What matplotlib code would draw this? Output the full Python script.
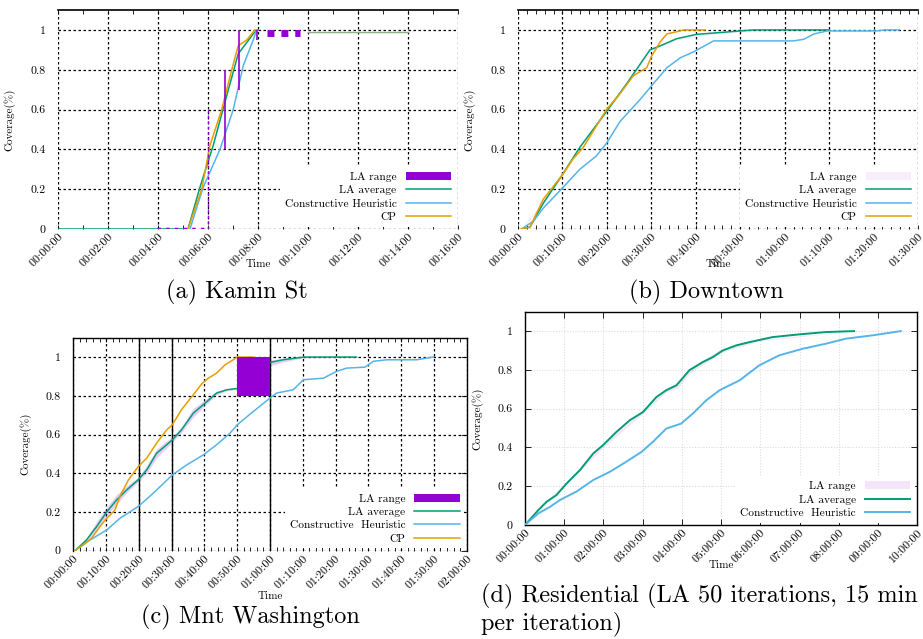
import matplotlib.pyplot as plt
import numpy as np

plt.rcParams['font.family'] = ['cmr10', 'DejaVu Serif']
plt.rcParams['axes.formatter.use_mathtext'] = True
plt.rcParams['axes.unicode_minus'] = False

PURPLE = '#9400d3'
GREEN = '#009e73'
BLUE = '#56b4e9'
ORANGE = '#e69f00'

y_ticks = [0, 0.2, 0.4, 0.6, 0.8, 1]
y_labels = ['0', '0.2', '0.4', '0.6', '0.8', '1']

# (a) Kamin St, time in minutes
a_ticks = [0, 2, 4, 6, 8, 10, 12, 14, 16]
a_labels = ['00:00:00', '00:02:00', '00:04:00', '00:06:00', '00:08:00',
            '00:10:00', '00:12:00', '00:14:00', '00:16:00']
a_cp_t = [5.2, 5.75, 6.08, 6.55, 6.95, 7.21, 7.55, 7.88]
a_cp_y = [0, 0.2, 0.42, 0.6, 0.8, 0.92, 0.95, 1.0]
a_la_t = [0, 3.95, 5.2, 5.68, 6.21, 6.75, 7.21, 7.81, 7.95]
a_la_y = [0, 0, 0, 0.21, 0.42, 0.67, 0.88, 0.98, 1.0]
a_la_tail_t = [10.0, 14.0]
a_la_tail_y = [0.99, 0.99]
a_ch_t = [5.28, 5.81, 6.48, 7.01, 7.41, 7.81, 7.95]
a_ch_y = [0, 0.21, 0.4, 0.6, 0.82, 0.95, 1.0]
# LA range as it came out in the render
a_rng_low_t = [3.95, 6.0]
a_rng_top_t = [8.36, 9.68]
a_rng_top_y = 0.983
a_rng_vx = [6.68, 7.25, 7.97]
a_rng_vlo = [0.40, 0.70, 0.95]
a_rng_vhi = [0.80, 1.00, 1.00]
a_rng_dash_x = 6.0
a_rng_dash_hi = 0.6

# (b) Downtown, minutes
b_ticks = [0, 10, 20, 30, 40, 50, 60, 70, 80, 90]
b_labels = ['00:00:00', '00:10:00', '00:20:00', '00:30:00', '00:40:00',
            '00:50:00', '01:00:00', '01:10:00', '01:20:00', '01:30:00']
b_cp_t = [0.8, 2.7, 5.7, 9.75, 12.3, 14.7, 19.9, 22.95, 25.95, 28.95, 30.1,
          32.0, 33.5, 36.5, 37.2, 42.1]
b_cp_y = [0, 0.01, 0.15, 0.265, 0.35, 0.41, 0.6, 0.68, 0.77, 0.81, 0.87,
          0.94, 0.98, 0.995, 1.0, 1.0]
b_la_t = [0.8, 2.7, 5.7, 9.75, 13.9, 19.9, 24.45, 29.7, 32.0, 35.7, 40.2,
          45.5, 50.0, 53.0, 70.0]
b_la_y = [0, 0.01, 0.13, 0.265, 0.41, 0.59, 0.73, 0.9, 0.92, 0.956, 0.978,
          0.987, 0.995, 1.0, 1.0]
b_ch_t = [0.8, 3.5, 5.7, 9.75, 13.9, 17.6, 19.9, 22.95, 27.45, 29.7, 33.5,
          36.5, 39.5, 44.0, 62.0, 64.3, 66.6, 69.6, 80.9, 82.4, 85.7]
b_ch_y = [0, 0.04, 0.105, 0.2, 0.3, 0.366, 0.43, 0.54, 0.65, 0.71, 0.81,
          0.86, 0.89, 0.945, 0.945, 0.953, 0.98, 0.995, 0.995, 1.0, 1.0]
b_rng_t = [0.8, 5.7, 13.9, 19.9, 24.45, 29.7, 35.7, 45.5, 53.0, 70.0]
b_rng_lo = [0, 0.12, 0.40, 0.58, 0.72, 0.89, 0.95, 0.982, 0.995, 0.998]
b_rng_hi = [0.01, 0.14, 0.42, 0.60, 0.74, 0.91, 0.962, 0.992, 1.0, 1.0]

# (c) Mnt Washington, minutes
c_ticks = [0, 10, 20, 30, 40, 50, 60, 70, 80, 90, 100, 110, 120]
c_labels = ['00:00:00', '00:10:00', '00:20:00', '00:30:00', '00:40:00',
            '00:50:00', '01:00:00', '01:10:00', '01:20:00', '01:30:00',
            '01:40:00', '01:50:00', '02:00:00']
c_cp_t = [0.5, 3.0, 5.6, 8.1, 10.2, 12.7, 14.2, 16.8, 19.8, 22.4, 25.4,
          28.5, 30.2, 33.0, 36.6, 39.2, 41.2, 43.7, 46.3, 48.8, 50.0, 54.9]
c_cp_y = [0, 0.03, 0.064, 0.124, 0.167, 0.21, 0.28, 0.365, 0.434, 0.478,
          0.555, 0.624, 0.65, 0.728, 0.805, 0.862, 0.891, 0.917, 0.96, 0.986,
          1.0, 1.0]
c_la_t = [0.5, 4.0, 7.1, 10.2, 13.2, 16.3, 19.8, 22.4, 25.4, 30.2, 33.0,
          36.6, 40.2, 43.7, 46.8, 50.0, 60.0, 64.0, 70.2, 86.4]
c_la_y = [0, 0.055, 0.124, 0.2, 0.262, 0.314, 0.366, 0.417, 0.503, 0.572,
          0.624, 0.71, 0.762, 0.814, 0.831, 0.838, 0.972, 0.986, 1.0, 1.0]
c_ch_t = [0.5, 5.1, 10.2, 14.2, 19.8, 24.4, 30.2, 34.6, 39.7, 43.7, 47.8,
          50.0, 54.9, 60.0, 62.0, 67.1, 70.2, 76.3, 80.3, 83.4, 89.0, 91.5,
          95.6, 104.7, 109.8]
c_ch_y = [0, 0.055, 0.107, 0.167, 0.228, 0.297, 0.391, 0.443, 0.495, 0.547,
          0.607, 0.65, 0.719, 0.788, 0.814, 0.831, 0.883, 0.891, 0.926,
          0.943, 0.948, 0.978, 0.986, 0.986, 1.0]
c_rng_t = [0.5, 4.0, 7.1, 10.2, 13.2, 16.3, 19.8, 22.4, 25.4, 30.2, 33.0,
           36.6, 40.2, 43.7, 46.8, 50.0]
c_rng_lo = [0, 0.045, 0.105, 0.18, 0.24, 0.30, 0.355, 0.40, 0.48, 0.56,
            0.61, 0.69, 0.75, 0.805, 0.826, 0.834]
c_rng_hi = [0, 0.065, 0.15, 0.225, 0.29, 0.335, 0.38, 0.44, 0.525, 0.59,
            0.64, 0.735, 0.78, 0.824, 0.836, 0.842]
c_rng2_t = [60.0, 64.0, 70.2, 80.0]
c_rng2_lo = [0.955, 0.975, 0.996, 0.998]
c_rng2_hi = [0.985, 0.995, 1.0, 1.0]
c_box_t = [50.0, 60.0]
c_box_lo = 0.8
c_box_hi = 1.0
c_solid_x = [20, 30, 60]

# (d) Residential, hours
d_ticks = [0, 1, 2, 3, 4, 5, 6, 7, 8, 9, 10]
d_labels = ['00:00:00', '01:00:00', '02:00:00', '03:00:00', '04:00:00',
            '05:00:00', '06:00:00', '07:00:00', '08:00:00', '09:00:00',
            '10:00:00']
d_la_t = [0, 0.34, 0.55, 0.8, 1.06, 1.4, 1.74, 1.99, 2.33, 2.67, 3.01, 3.35,
          3.6, 3.86, 4.19, 4.53, 4.79, 5.04, 5.38, 5.72, 6.31, 6.99, 7.67, 8.39]
d_la_y = [0, 0.077, 0.12, 0.154, 0.214, 0.283, 0.369, 0.412, 0.48, 0.54,
          0.583, 0.66, 0.695, 0.72, 0.798, 0.84, 0.866, 0.9, 0.926, 0.943,
          0.969, 0.983, 0.995, 1.0]
d_ch_t = [0, 0.34, 0.64, 0.89, 1.31, 1.74, 2.16, 2.58, 2.97, 3.26, 3.6, 3.98,
          4.28, 4.62, 4.96, 5.47, 5.97, 6.48, 7.08, 7.67, 8.18, 8.86, 9.58]
d_ch_y = [0, 0.06, 0.094, 0.129, 0.172, 0.232, 0.274, 0.326, 0.377, 0.429,
          0.497, 0.523, 0.575, 0.643, 0.695, 0.746, 0.823, 0.875, 0.909,
          0.935, 0.961, 0.978, 1.0]
d_rng_t = [0, 1.0, 2.0, 3.0, 3.6, 3.9, 4.2, 4.8, 5.0, 6.0, 8.39]
d_rng_lo = [0, 0.2, 0.4, 0.575, 0.685, 0.705, 0.785, 0.86, 0.89, 0.95, 1.0]
d_rng_hi = [0, 0.215, 0.42, 0.59, 0.705, 0.74, 0.81, 0.885, 0.905, 0.958, 1.0]

captions = ['(a) Kamin St', '(b) Downtown', '(c) Mnt Washington',
            '(d) Residential (LA 50 iterations, 15 min', 'per iteration)']

fig = plt.figure(figsize=(9.23, 6.39), dpi=100)
ax_a = fig.add_axes([0.0628, 0.6416, 0.4334, 0.3427])
ax_b = fig.add_axes([0.5612, 0.6416, 0.4334, 0.3427])
ax_c = fig.add_axes([0.0794, 0.1382, 0.4262, 0.3333])
ax_d = fig.add_axes([0.5688, 0.1784, 0.4250, 0.3338])

grid_kw = dict(color='black', linestyle=(0, (2, 2)), linewidth=0.9)


def setup(ax, ticks, labels, minor, label_y, grid=grid_kw):
    ax.set_xlim(ticks[0], ticks[-1])
    ax.set_ylim(0, 1.1)
    ax.set_xticks(ticks)
    ax.set_xticklabels(labels, rotation=45, ha='right', va='top',
                       rotation_mode='anchor', fontsize=8.5)
    ax.set_yticks(y_ticks)
    ax.set_yticklabels(y_labels, fontsize=8.5)
    if minor is not None:
        ax.set_xticks(minor, minor=True)
    ax.tick_params(axis='both', which='both', direction='in', top=True,
                   length=3, width=0.6, colors='black')
    ax.tick_params(axis='x', which='major', pad=2)
    ax.tick_params(axis='y', which='major', length=0, pad=9)
    ax.grid(True, which='major', **grid)
    ax.set_axisbelow(True)
    ax.set_xlabel('Time', fontsize=8)
    ax.xaxis.set_label_coords(0.5, label_y)
    ax.set_ylabel('Coverage(%)', fontsize=8)
    ax.yaxis.set_label_coords(-0.106, 0.5)


def legend(ax):
    ax.legend(loc='lower right', markerfirst=False, fontsize=8.2,
              frameon=True, fancybox=False, framealpha=1,
              edgecolor='none', handlelength=4, labelspacing=0.3,
              borderaxespad=0.2, handletextpad=0.8)


# (a)
setup(ax_a, a_ticks, a_labels, [1, 3, 5, 7, 9, 11, 13, 15], -0.137)
for s in ['left', 'right', 'bottom']:
    ax_a.spines[s].set_visible(False)
ax_a.spines['top'].set_linewidth(1.2)
ax_a.plot(a_rng_low_t, [0, 0], color=PURPLE, lw=2.5, linestyle=(0, (1, 1.5)),
          zorder=4)
ax_a.plot(a_rng_top_t, [a_rng_top_y] * 2, color=PURPLE, lw=5,
          linestyle=(0, (1, 1)), zorder=4)
ax_a.vlines(a_rng_vx, a_rng_vlo, a_rng_vhi, color=PURPLE, lw=1.2, zorder=4)
ax_a.vlines(a_rng_dash_x, 0, a_rng_dash_hi, color=PURPLE, lw=1,
            linestyles=(0, (2, 2)), zorder=4)
ax_a.fill_between([], [], [], color=PURPLE, lw=0, label='LA range')
ax_a.plot(a_la_t, a_la_y, color=GREEN, lw=1.1, label='LA average', zorder=3)
ax_a.plot(a_la_tail_t, a_la_tail_y, color='#8fae8a', lw=1, zorder=3)
ax_a.plot(a_ch_t, a_ch_y, color=BLUE, lw=1.1, label='Constructive Heuristic',
          zorder=3)
ax_a.plot(a_cp_t, a_cp_y, color=ORANGE, lw=1.1, label='CP', zorder=3)
legend(ax_a)

# (b)
setup(ax_b, b_ticks, b_labels, np.arange(0, 91, 2), -0.137)
for s in ['left', 'right', 'bottom']:
    ax_b.spines[s].set_visible(False)
ax_b.spines['top'].set_linewidth(1.2)
ax_b.fill_between(b_rng_t, b_rng_lo, b_rng_hi, color=PURPLE, alpha=0.07,
                  lw=0, label='LA range')
ax_b.plot(b_la_t, b_la_y, color=GREEN, lw=1.1, label='LA average', zorder=3)
ax_b.plot(b_ch_t, b_ch_y, color=BLUE, lw=1.1, label='Constructive Heuristic',
          zorder=3)
ax_b.plot(b_cp_t, b_cp_y, color=ORANGE, lw=1.1, label='CP', zorder=3)
legend(ax_b)

# (c)
setup(ax_c, c_ticks, c_labels, np.arange(0, 121, 2), -0.19)
ax_c.spines['bottom'].set_visible(False)
for s in ['left', 'right', 'top']:
    ax_c.spines[s].set_linewidth(1.0)
ax_c.tick_params(axis='y', which='major', direction='in', length=4,
                 right=True, left=False)
for x in c_solid_x:
    ax_c.axvline(x, color='black', lw=1.0, zorder=2)
ax_c.fill_between(c_rng_t, c_rng_lo, c_rng_hi, color=PURPLE, alpha=0.2,
                  lw=0)
ax_c.fill_between(c_rng2_t, c_rng2_lo, c_rng2_hi, color=PURPLE, alpha=0.2,
                  lw=0)
ax_c.fill_between(c_box_t, c_box_lo, c_box_hi, color=PURPLE, lw=0, zorder=5,
                  label='LA range')
ax_c.plot(c_la_t, c_la_y, color=GREEN, lw=1.1, label='LA average', zorder=3)
ax_c.plot(c_ch_t, c_ch_y, color=BLUE, lw=1.1, label='Constructive  Heuristic',
          zorder=3)
ax_c.plot(c_cp_t, c_cp_y, color=ORANGE, lw=1.1, label='CP', zorder=3)
legend(ax_c)

# (d)
setup(ax_d, d_ticks, d_labels, None, -0.167,
      grid=dict(color='#dddddd', linestyle=(0, (1, 1.5)), linewidth=0.8))
ax_d.tick_params(axis='both', which='major', direction='in', length=4,
                 top=True, right=True)
ax_d.tick_params(axis='y', which='major', pad=9)
for s in ['left', 'right', 'top', 'bottom']:
    ax_d.spines[s].set_linewidth(1.0)
ax_d.fill_between(d_rng_t, d_rng_lo, d_rng_hi, color=PURPLE, alpha=0.1,
                  lw=0, label='LA range')
ax_d.plot(d_la_t, d_la_y, color=GREEN, lw=1.4, label='LA average', zorder=3)
ax_d.plot(d_ch_t, d_ch_y, color=BLUE, lw=1.4, label='Constructive  Heuristic',
          zorder=3)
legend(ax_d)

# sub-captions
cap_kw = dict(va='center', fontsize=17.5)
fig.text(0.257, 1 - 292 / 639, captions[0], ha='center', **cap_kw)
fig.text(0.765, 1 - 292 / 639, captions[1], ha='center', **cap_kw)
fig.text(0.271, 1 - 617 / 639, captions[2], ha='center', **cap_kw)
fig.text(0.521, 1 - 596 / 639, captions[3], ha='left', **cap_kw)
fig.text(0.521, 1 - 624 / 639, captions[4], ha='left', **cap_kw)

fig.savefig('out.png', dpi=100)
